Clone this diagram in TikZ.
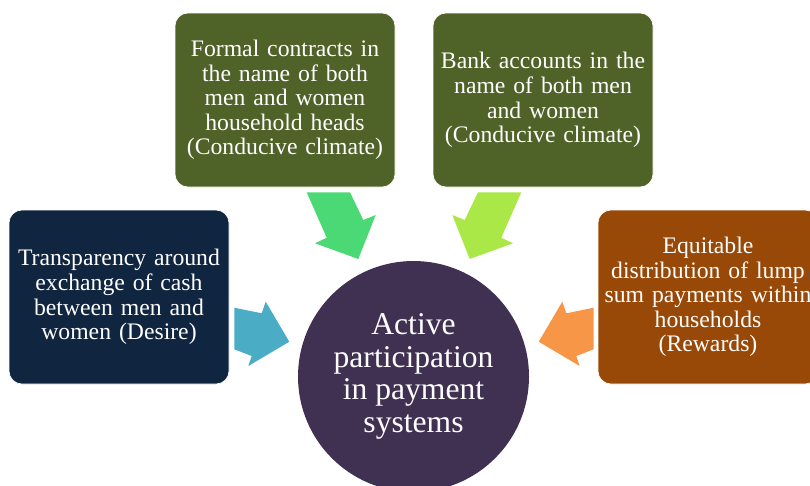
\documentclass[tikz,border=0pt]{standalone}
\usepackage{fontspec}
\setmainfont{Liberation Serif}
\usetikzlibrary{positioning}
\definecolor{navy}{RGB}{16,37,64}
\definecolor{olive}{RGB}{79,98,40}
\definecolor{rust}{RGB}{152,72,7}
\definecolor{plum}{RGB}{64,49,82}
\definecolor{arrblue}{RGB}{75,172,198}
\definecolor{arrgreen}{RGB}{74,217,116}
\definecolor{arrlime}{RGB}{170,232,72}
\definecolor{arrorange}{RGB}{247,150,70}
\tikzset{
  box/.style={rectangle,rounded corners=13pt,text width=214pt,inner xsep=3pt,
    minimum height=174pt,align=center,text=white,draw=white,line width=0.6pt,
    font=\fontsize{23.7}{24.6}\selectfont},
  core/.style={circle,minimum size=231pt,inner sep=0pt,align=center,text=white,
    fill=plum,font=\fontsize{31.6}{32.4}\selectfont}
}
\begin{document}
\begin{tikzpicture}[x=1pt,y=-1pt,line join=round]
\useasboundingbox (0,0) rectangle (810,485);
\node[box,fill=navy] (T) at (119,297) {Transparency around\\exchange of cash\\between men and\\women (Desire)};
\node[box,fill=olive] (F) at (285,100) {Formal contracts in\\the name of both\\men and women\\household heads\\(Conducive climate)};
\node[box,fill=olive] (B) at (543,100) {Bank accounts in the\\name of both men\\and women\\(Conducive climate)};
\node[box,fill=rust] (E) at (708,297) {Equitable\\distribution of lump\\sum payments within\\households\\(Rewards)};
\node[core] (P) at (413.5,376.5) {Active\\participation\\in payment\\systems};
% block arrows, mirrored about the axis of P
\foreach \s/\cs/\ct in {1/arrblue/arrgreen,-1/arrorange/arrlime}{
\begin{scope}[shift={(414,0)},xscale=\s]
\fill[\cs] (-179.7,307.7) -- (-152.3,313.3) -- (-148.3,301.7) -- (-124.7,341.7) -- (-165.7,366) -- (-162.3,356) -- (-179.7,349.3) -- cycle;
\fill[\ct] (-107.3,192.3) -- (-64,192.3) -- (-50.7,220) -- (-38.3,215) -- (-55.7,259) -- (-99,243.3) -- (-87.3,237.7) -- cycle;
\end{scope}}
\end{tikzpicture}
\end{document}
